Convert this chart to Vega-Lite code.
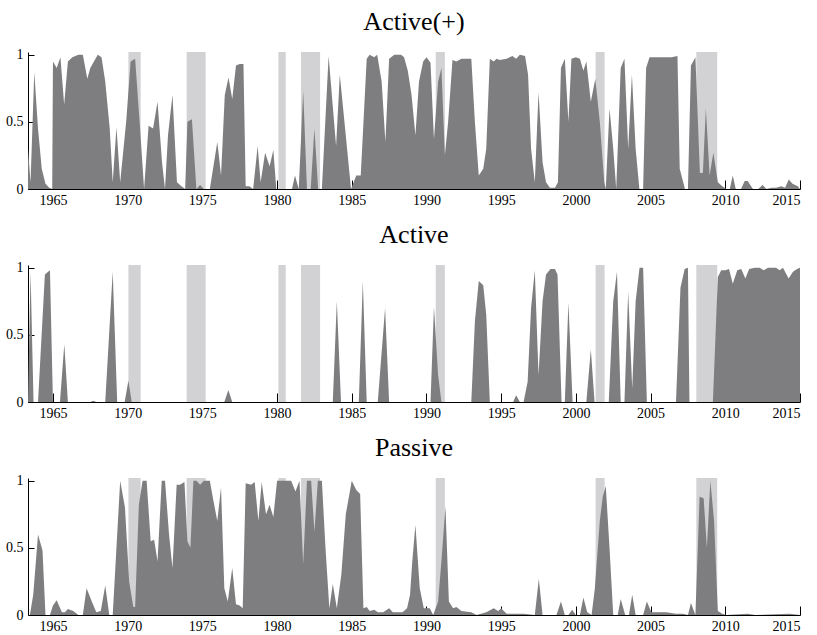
{
  "$schema": "https://vega.github.io/schema/vega-lite/v6.json",
  "padding": {"left": 5, "top": 8, "right": 8, "bottom": 2},
  "background": "white",
  "spacing": 14,
  "config": {
    "font": "Liberation Serif",
    "view": {"stroke": null},
    "title": {"font": "Liberation Serif", "fontSize": 26, "fontWeight": "normal", "color": "black", "offset": 13},
    "axis": {"labelFont": "Liberation Serif", "labelFontSize": 14, "labelColor": "black", "domainColor": "black", "tickColor": "black", "grid": false, "title": null, "domainWidth": 1, "tickWidth": 1, "zindex": 1}
  },
  "datasets": {
    "rec": [
      {"start": 1970.05, "end": 1970.87},
      {"start": 1973.95, "end": 1975.22},
      {"start": 1980.09, "end": 1980.58},
      {"start": 1981.6, "end": 1982.88},
      {"start": 1990.62, "end": 1991.23},
      {"start": 2001.32, "end": 2001.92},
      {"start": 2008.06, "end": 2009.46}
    ],
    "activePlus": [
      {"t":1963.33,"v":0.3},{"t":1963.5,"v":0.05},{"t":1963.75,"v":0.87},{"t":1964.0,"v":0.45},{"t":1964.25,"v":0.15},{"t":1964.5,"v":0.04},{"t":1964.75,"v":0.01},{"t":1964.95,"v":0.0},
      {"t":1965.0,"v":0.95},{"t":1965.25,"v":0.9},{"t":1965.5,"v":0.98},{"t":1965.75,"v":0.63},{"t":1966.0,"v":0.95},{"t":1966.3,"v":0.98},{"t":1966.7,"v":1.0},{"t":1967.0,"v":1.0},{"t":1967.3,"v":0.82},{"t":1967.5,"v":0.9},{"t":1968.0,"v":1.0},{"t":1968.25,"v":0.98},{"t":1968.5,"v":0.8},{"t":1968.8,"v":0.45},{"t":1969.0,"v":0.05},{"t":1969.25,"v":0.46},{"t":1969.5,"v":0.05},{"t":1969.9,"v":0.5},
      {"t":1970.2,"v":0.95},{"t":1970.5,"v":0.97},{"t":1970.8,"v":0.5},{"t":1971.1,"v":0.0},{"t":1971.4,"v":0.47},{"t":1971.7,"v":0.45},{"t":1972.0,"v":0.65},{"t":1972.3,"v":0.2},{"t":1972.5,"v":0.0},{"t":1972.7,"v":0.4},{"t":1973.0,"v":0.7},{"t":1973.3,"v":0.05},{"t":1973.6,"v":0.02},{"t":1973.85,"v":0.0},{"t":1974.0,"v":0.5},{"t":1974.3,"v":0.52},{"t":1974.6,"v":0.0},{"t":1974.85,"v":0.03},{"t":1975.1,"v":0.0},{"t":1975.5,"v":0.0},
      {"t":1976.0,"v":0.35},{"t":1976.25,"v":0.1},{"t":1976.5,"v":0.7},{"t":1976.75,"v":0.83},{"t":1977.0,"v":0.67},{"t":1977.25,"v":0.92},{"t":1977.5,"v":0.93},{"t":1977.75,"v":0.93},{"t":1977.9,"v":0.02},{"t":1978.15,"v":0.02},{"t":1978.4,"v":0.0},{"t":1978.7,"v":0.32},{"t":1978.9,"v":0.05},{"t":1979.2,"v":0.27},{"t":1979.5,"v":0.17},{"t":1979.75,"v":0.29},{"t":1979.95,"v":0.0},
      {"t":1981.0,"v":0.0},{"t":1981.2,"v":0.1},{"t":1981.45,"v":0.0},{"t":1981.75,"v":0.73},{"t":1982.0,"v":0.0},{"t":1982.25,"v":0.0},{"t":1982.5,"v":0.45},{"t":1982.75,"v":0.0},{"t":1983.0,"v":0.0},{"t":1983.45,"v":0.99},{"t":1983.95,"v":0.32},{"t":1984.2,"v":0.85},{"t":1984.95,"v":0.0},
      {"t":1985.3,"v":0.1},{"t":1985.6,"v":0.1},{"t":1986.0,"v":0.97},{"t":1986.2,"v":1.0},{"t":1986.5,"v":0.98},{"t":1986.7,"v":1.0},{"t":1987.0,"v":0.8},{"t":1987.25,"v":0.35},{"t":1987.5,"v":0.97},{"t":1987.85,"v":1.0},{"t":1988.3,"v":1.0},{"t":1988.5,"v":0.98},{"t":1988.75,"v":0.88},{"t":1989.0,"v":0.7},{"t":1989.26,"v":0.4},{"t":1989.5,"v":0.8},{"t":1989.78,"v":0.95},
      {"t":1990.0,"v":0.98},{"t":1990.27,"v":0.94},{"t":1990.5,"v":0.37},{"t":1990.78,"v":0.8},{"t":1991.0,"v":0.9},{"t":1991.23,"v":0.25},{"t":1991.45,"v":0.5},{"t":1991.74,"v":0.96},{"t":1992.0,"v":0.95},{"t":1992.34,"v":0.97},{"t":1993.0,"v":0.97},{"t":1993.24,"v":0.5},{"t":1993.5,"v":0.1},{"t":1993.8,"v":0.15},{"t":1994.0,"v":0.3},{"t":1994.24,"v":0.97},{"t":1994.5,"v":0.95},{"t":1994.7,"v":0.97},{"t":1994.9,"v":0.96},
      {"t":1995.36,"v":0.97},{"t":1995.75,"v":0.99},{"t":1996.0,"v":0.97},{"t":1996.25,"v":1.0},{"t":1996.6,"v":0.99},{"t":1996.8,"v":0.85},{"t":1997.0,"v":0.3},{"t":1997.25,"v":0.05},{"t":1997.5,"v":0.72},{"t":1997.77,"v":0.2},{"t":1998.0,"v":0.05},{"t":1998.26,"v":0.01},{"t":1998.6,"v":0.01},{"t":1998.8,"v":0.05},{"t":1999.0,"v":0.9},{"t":1999.26,"v":0.97},{"t":1999.5,"v":0.5},{"t":1999.7,"v":0.97},
      {"t":2000.0,"v":0.98},{"t":2000.27,"v":0.97},{"t":2000.5,"v":0.88},{"t":2000.7,"v":0.95},{"t":2001.0,"v":0.65},{"t":2001.3,"v":0.82},{"t":2001.6,"v":0.5},{"t":2001.9,"v":0.05},{"t":2002.0,"v":0.0},{"t":2002.25,"v":0.6},{"t":2002.5,"v":0.3},{"t":2002.7,"v":0.0},{"t":2003.0,"v":0.9},{"t":2003.25,"v":0.97},{"t":2003.5,"v":0.3},{"t":2003.75,"v":0.85},{"t":2004.0,"v":0.3},{"t":2004.25,"v":0.0},{"t":2004.5,"v":0.0},{"t":2004.7,"v":0.9},{"t":2004.93,"v":0.98},
      {"t":2005.7,"v":0.98},{"t":2006.4,"v":0.98},{"t":2006.8,"v":0.99},{"t":2006.95,"v":0.15},{"t":2007.3,"v":0.0},{"t":2007.5,"v":0.0},{"t":2007.7,"v":0.92},{"t":2008.0,"v":0.98},{"t":2008.3,"v":0.12},{"t":2008.5,"v":0.12},{"t":2008.7,"v":0.6},{"t":2008.95,"v":0.1},{"t":2009.2,"v":0.27},{"t":2009.5,"v":0.05},{"t":2009.8,"v":0.02},
      {"t":2010.07,"v":0.0},{"t":2010.3,"v":0.0},{"t":2010.5,"v":0.1},{"t":2010.7,"v":0.0},{"t":2011.05,"v":0.0},{"t":2011.3,"v":0.06},{"t":2011.5,"v":0.06},{"t":2011.85,"v":0.0},{"t":2012.2,"v":0.0},{"t":2012.5,"v":0.03},{"t":2012.75,"v":0.0},{"t":2013.1,"v":0.01},{"t":2013.4,"v":0.01},{"t":2013.75,"v":0.02},{"t":2014.0,"v":0.01},{"t":2014.25,"v":0.07},{"t":2014.5,"v":0.04},{"t":2014.85,"v":0.02},{"t":2015.0,"v":0.0}
    ],
    "active": [
      {"t":1963.33,"v":0.0},{"t":1963.5,"v":0.97},{"t":1963.7,"v":0.0},{"t":1964.0,"v":0.0},{"t":1964.46,"v":0.95},{"t":1964.8,"v":0.98},{"t":1965.0,"v":0.0},{"t":1965.47,"v":0.0},{"t":1965.76,"v":0.43},{"t":1966.0,"v":0.0},{"t":1967.5,"v":0.0},{"t":1967.7,"v":0.01},{"t":1967.9,"v":0.0},{"t":1968.5,"v":0.0},{"t":1969.0,"v":0.97},{"t":1969.3,"v":0.0},{"t":1969.8,"v":0.0},{"t":1970.05,"v":0.16},{"t":1970.27,"v":0.0},
      {"t":1976.47,"v":0.0},{"t":1976.74,"v":0.09},{"t":1977.0,"v":0.0},{"t":1983.73,"v":0.0},{"t":1984.0,"v":0.75},{"t":1984.28,"v":0.0},{"t":1985.47,"v":0.0},{"t":1985.74,"v":0.9},{"t":1986.0,"v":0.0},{"t":1986.74,"v":0.0},{"t":1987.23,"v":0.7},{"t":1987.5,"v":0.0},
      {"t":1990.27,"v":0.0},{"t":1990.5,"v":0.71},{"t":1990.78,"v":0.2},{"t":1991.0,"v":0.0},{"t":1993.0,"v":0.0},{"t":1993.24,"v":0.6},{"t":1993.5,"v":0.9},{"t":1993.8,"v":0.87},{"t":1994.0,"v":0.65},{"t":1994.24,"v":0.0},{"t":1995.8,"v":0.0},{"t":1996.0,"v":0.05},{"t":1996.25,"v":0.0},{"t":1996.5,"v":0.0},{"t":1996.77,"v":0.15},{"t":1997.0,"v":0.7},{"t":1997.25,"v":0.98},{"t":1997.5,"v":0.2},{"t":1997.77,"v":0.75},{"t":1998.0,"v":0.95},{"t":1998.3,"v":0.99},{"t":1998.6,"v":0.99},{"t":1998.77,"v":0.95},{"t":1999.04,"v":0.0},{"t":1999.26,"v":0.0},{"t":1999.5,"v":0.74},{"t":1999.78,"v":0.0},
      {"t":2000.7,"v":0.0},{"t":2001.0,"v":0.39},{"t":2001.25,"v":0.0},{"t":2002.2,"v":0.0},{"t":2002.5,"v":0.75},{"t":2002.75,"v":0.97},{"t":2003.0,"v":0.0},{"t":2003.25,"v":0.0},{"t":2003.5,"v":0.82},{"t":2003.77,"v":0.1},{"t":2004.0,"v":0.75},{"t":2004.26,"v":1.0},{"t":2004.5,"v":1.0},{"t":2004.75,"v":0.0},{"t":2006.7,"v":0.0},{"t":2007.0,"v":0.85},{"t":2007.28,"v":0.99},{"t":2007.5,"v":1.0},{"t":2007.6,"v":0.0},
      {"t":2009.17,"v":0.0},{"t":2009.5,"v":0.93},{"t":2009.73,"v":0.98},{"t":2010.0,"v":0.98},{"t":2010.25,"v":0.99},{"t":2010.5,"v":0.88},{"t":2010.8,"v":0.98},{"t":2011.07,"v":0.99},{"t":2011.34,"v":0.92},{"t":2011.6,"v":0.99},{"t":2011.96,"v":1.0},{"t":2012.3,"v":1.0},{"t":2012.57,"v":0.98},{"t":2012.86,"v":1.0},{"t":2013.4,"v":1.0},{"t":2013.64,"v":0.98},{"t":2013.86,"v":1.0},{"t":2014.24,"v":0.92},{"t":2014.53,"v":0.97},{"t":2014.8,"v":0.99},{"t":2015.0,"v":1.0}
    ],
    "passive": [
      {"t":1963.33,"v":0.0},{"t":1963.46,"v":0.0},{"t":1963.68,"v":0.15},{"t":1964.0,"v":0.6},{"t":1964.3,"v":0.48},{"t":1964.5,"v":0.0},{"t":1964.8,"v":0.0},{"t":1965.0,"v":0.07},{"t":1965.25,"v":0.11},{"t":1965.6,"v":0.02},{"t":1965.8,"v":0.02},{"t":1966.0,"v":0.045},{"t":1966.36,"v":0.03},{"t":1966.7,"v":0.0},{"t":1967.0,"v":0.0},{"t":1967.25,"v":0.2},{"t":1967.6,"v":0.1},{"t":1967.9,"v":0.02},{"t":1968.2,"v":0.03},{"t":1968.5,"v":0.22},{"t":1968.77,"v":0.0},{"t":1969.0,"v":0.0},{"t":1969.5,"v":1.0},{"t":1969.82,"v":0.8},
      {"t":1970.1,"v":0.25},{"t":1970.38,"v":0.06},{"t":1970.5,"v":0.06},{"t":1970.75,"v":0.82},{"t":1971.0,"v":1.0},{"t":1971.27,"v":1.0},{"t":1971.54,"v":0.55},{"t":1971.77,"v":0.56},{"t":1972.0,"v":0.4},{"t":1972.28,"v":1.0},{"t":1972.5,"v":1.0},{"t":1972.77,"v":0.6},{"t":1973.0,"v":0.35},{"t":1973.28,"v":0.97},{"t":1973.5,"v":0.97},{"t":1973.8,"v":0.99},{"t":1974.0,"v":0.55},{"t":1974.2,"v":0.5},{"t":1974.4,"v":1.0},{"t":1974.6,"v":1.0},{"t":1974.85,"v":0.97},{"t":1975.1,"v":1.0},{"t":1975.5,"v":1.0},{"t":1975.74,"v":0.85},{"t":1976.0,"v":0.7},{"t":1976.25,"v":0.95},{"t":1976.47,"v":0.2},{"t":1976.7,"v":0.1},{"t":1977.0,"v":0.35},{"t":1977.25,"v":0.08},{"t":1977.5,"v":0.07},{"t":1977.7,"v":0.05},{"t":1977.9,"v":0.98},{"t":1978.26,"v":0.97},{"t":1978.5,"v":0.99},{"t":1978.75,"v":0.7},{"t":1978.97,"v":0.99},{"t":1979.26,"v":0.75},{"t":1979.5,"v":0.82},{"t":1979.75,"v":0.73},
      {"t":1980.0,"v":1.0},{"t":1980.94,"v":1.0},{"t":1981.23,"v":0.92},{"t":1981.5,"v":1.0},{"t":1981.75,"v":0.38},{"t":1982.0,"v":1.0},{"t":1982.28,"v":1.0},{"t":1982.5,"v":0.62},{"t":1982.73,"v":1.0},{"t":1983.0,"v":1.0},{"t":1983.24,"v":0.5},{"t":1983.5,"v":0.05},{"t":1983.73,"v":0.23},{"t":1984.0,"v":0.05},{"t":1984.3,"v":0.3},{"t":1984.6,"v":0.75},{"t":1985.0,"v":1.0},{"t":1985.3,"v":0.93},{"t":1985.56,"v":0.9},{"t":1985.78,"v":0.05},{"t":1986.0,"v":0.06},{"t":1986.2,"v":0.03},{"t":1986.5,"v":0.04},{"t":1986.75,"v":0.02},{"t":1987.1,"v":0.02},{"t":1987.5,"v":0.05},{"t":1987.75,"v":0.02},{"t":1988.1,"v":0.02},{"t":1988.4,"v":0.02},{"t":1988.7,"v":0.05},{"t":1988.9,"v":0.15},{"t":1989.05,"v":0.4},{"t":1989.26,"v":0.67},{"t":1989.55,"v":0.2},{"t":1989.82,"v":0.05},
      {"t":1990.0,"v":0.05},{"t":1990.22,"v":0.05},{"t":1990.45,"v":0.0},{"t":1990.78,"v":0.1},{"t":1991.0,"v":0.4},{"t":1991.27,"v":0.81},{"t":1991.5,"v":0.1},{"t":1991.78,"v":0.05},{"t":1992.0,"v":0.06},{"t":1992.34,"v":0.03},{"t":1993.0,"v":0.02},{"t":1993.35,"v":0.0},{"t":1994.0,"v":0.02},{"t":1994.5,"v":0.05},{"t":1994.8,"v":0.03},{"t":1995.0,"v":0.05},{"t":1995.36,"v":0.01},{"t":1996.5,"v":0.01},{"t":1997.25,"v":0.0},{"t":1997.52,"v":0.27},{"t":1997.77,"v":0.0},{"t":1998.7,"v":0.0},{"t":1999.0,"v":0.1},{"t":1999.26,"v":0.0},{"t":1999.5,"v":0.0},{"t":1999.75,"v":0.04},
      {"t":2000.0,"v":0.0},{"t":2000.27,"v":0.0},{"t":2000.5,"v":0.13},{"t":2000.76,"v":0.02},{"t":2001.05,"v":0.0},{"t":2001.27,"v":0.2},{"t":2001.6,"v":0.7},{"t":2001.8,"v":0.88},{"t":2002.0,"v":0.96},{"t":2002.25,"v":0.5},{"t":2002.5,"v":0.0},{"t":2002.8,"v":0.0},{"t":2003.0,"v":0.12},{"t":2003.3,"v":0.0},{"t":2003.55,"v":0.0},{"t":2003.77,"v":0.15},{"t":2004.0,"v":0.0},{"t":2004.5,"v":0.0},{"t":2004.75,"v":0.1},{"t":2005.05,"v":0.02},{"t":2006.05,"v":0.02},{"t":2006.7,"v":0.01},{"t":2007.17,"v":0.01},{"t":2007.5,"v":0.0},{"t":2007.7,"v":0.09},{"t":2008.0,"v":0.0},{"t":2008.28,"v":0.88},{"t":2008.55,"v":0.87},{"t":2008.77,"v":0.5},{"t":2009.0,"v":1.0},{"t":2009.25,"v":0.7},{"t":2009.5,"v":0.03},{"t":2009.8,"v":0.01},
      {"t":2010.07,"v":0.0},{"t":2011.5,"v":0.01},{"t":2012.0,"v":0.0},{"t":2014.3,"v":0.01},{"t":2015.0,"v":0.0}
    ]
  },
  "vconcat": [
    {
      "title": "Active(+)",
      "width": 772, "height": 137,
      "layer": [
        {"data": {"name": "rec"}, "mark": {"type": "rect", "color": "#d2d2d4"},
         "encoding": {
           "x": {"field": "start", "type": "quantitative", "scale": {"domain": [1963.33, 2015], "nice": false, "zero": false},
                 "axis": {"values": [1965,1970,1975,1980,1985,1990,1995,2000,2005,2010,2015], "format": "d", "tickSize": -9, "labelPadding": 13, "labelFontSize": 14}},
           "x2": {"field": "end"},
           "y": {"datum": 0, "type": "quantitative", "scale": {"domain": [0, 1.02], "nice": false},
                 "axis": {"values": [0, 0.5, 1], "format": "~g", "tickSize": -6, "labelPadding": 11, "labelFontSize": 14}},
           "y2": {"datum": 1.02}}},
        {"data": {"name": "activePlus"}, "mark": {"type": "area", "color": "#7e7e80", "clip": true},
         "encoding": {"x": {"field": "t", "type": "quantitative"}, "y": {"field": "v", "type": "quantitative"}}}
      ]
    },
    {
      "title": "Active",
      "width": 772, "height": 137,
      "layer": [
        {"data": {"name": "rec"}, "mark": {"type": "rect", "color": "#d2d2d4"},
         "encoding": {
           "x": {"field": "start", "type": "quantitative", "scale": {"domain": [1963.33, 2015], "nice": false, "zero": false},
                 "axis": {"values": [1965,1970,1975,1980,1985,1990,1995,2000,2005,2010,2015], "format": "d", "tickSize": -9, "labelPadding": 13, "labelFontSize": 14}},
           "x2": {"field": "end"},
           "y": {"datum": 0, "type": "quantitative", "scale": {"domain": [0, 1.02], "nice": false},
                 "axis": {"values": [0, 0.5, 1], "format": "~g", "tickSize": -6, "labelPadding": 11, "labelFontSize": 14}},
           "y2": {"datum": 1.02}}},
        {"data": {"name": "active"}, "mark": {"type": "area", "color": "#7e7e80", "clip": true},
         "encoding": {"x": {"field": "t", "type": "quantitative"}, "y": {"field": "v", "type": "quantitative"}}}
      ]
    },
    {
      "title": "Passive",
      "width": 772, "height": 137,
      "layer": [
        {"data": {"name": "rec"}, "mark": {"type": "rect", "color": "#d2d2d4"},
         "encoding": {
           "x": {"field": "start", "type": "quantitative", "scale": {"domain": [1963.33, 2015], "nice": false, "zero": false},
                 "axis": {"values": [1965,1970,1975,1980,1985,1990,1995,2000,2005,2010,2015], "format": "d", "tickSize": -9, "labelPadding": 13, "labelFontSize": 14}},
           "x2": {"field": "end"},
           "y": {"datum": 0, "type": "quantitative", "scale": {"domain": [0, 1.02], "nice": false},
                 "axis": {"values": [0, 0.5, 1], "format": "~g", "tickSize": -6, "labelPadding": 11, "labelFontSize": 14}},
           "y2": {"datum": 1.02}}},
        {"data": {"name": "passive"}, "mark": {"type": "area", "color": "#7e7e80", "clip": true},
         "encoding": {"x": {"field": "t", "type": "quantitative"}, "y": {"field": "v", "type": "quantitative"}}}
      ]
    }
  ]
}
